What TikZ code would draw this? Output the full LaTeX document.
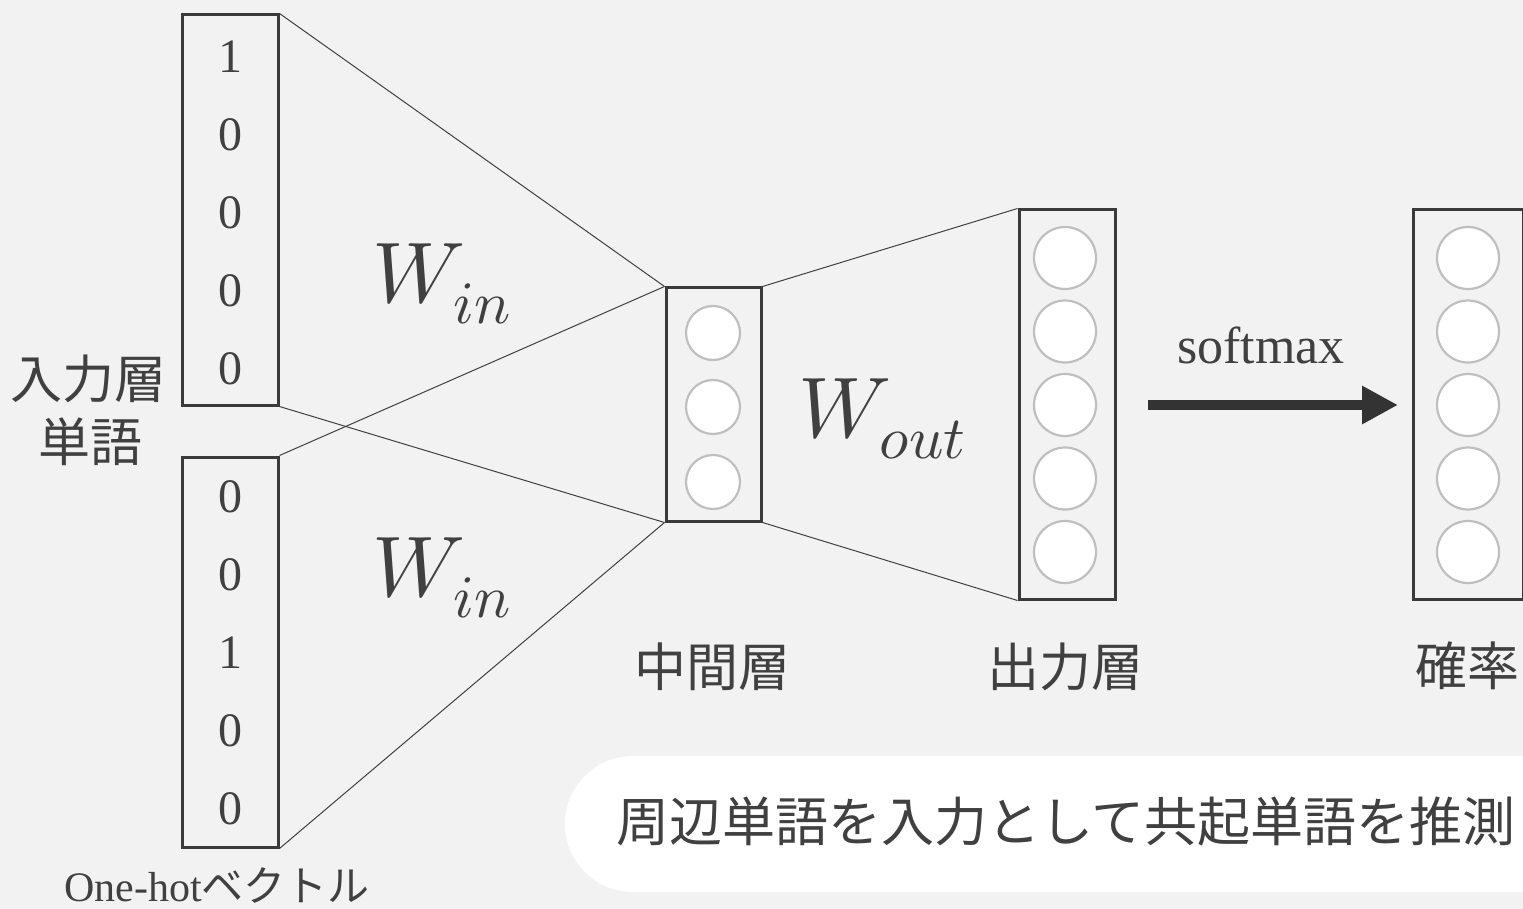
\documentclass[tikz,border=0pt]{standalone}
\usepackage{unicode-math}
\setmainfont{Liberation Serif}
\setmathfont{Latin Modern Math}
\newfontfamily\jp{Noto Sans CJK JP}
\usetikzlibrary{arrows.meta}
\definecolor{bgc}{HTML}{F2F2F2}
\definecolor{boxc}{HTML}{3A3A3A}
\definecolor{circc}{HTML}{BFBFBF}
\definecolor{txtc}{HTML}{404040}
\definecolor{arrc}{HTML}{333333}
\tikzset{
  vecbox/.style={draw=boxc, line width=3pt, rectangle, inner sep=0pt, minimum width=96pt, minimum height=390pt},
  unit/.style={circle, fill=white, draw=circc, line width=2.2pt, inner sep=0pt},
  sunit/.style={unit, minimum size=54pt},
  bunit/.style={unit, minimum size=62pt},
  conn/.style={draw=txtc, line width=1pt},
  num/.style={text=txtc, inner sep=0pt, font=\fontsize{48}{48}\selectfont},
  jlabel/.style={text=txtc, inner sep=0pt, font=\fontsize{52}{52}\selectfont\jp},
  wlabel/.style={text=txtc, inner sep=0pt, anchor=base west, font=\fontsize{86}{86}\selectfont},
}
\begin{document}
\begin{tikzpicture}[x=1pt,y=-1pt]
\useasboundingbox (0,0) rectangle (1523,909);
\clip (0,0) rectangle (1523,909);
\fill[bgc] (0,0) rectangle (1523,909);
% caption pill
\fill[white, rounded corners=68pt] (565,756) rectangle (1600,892);
% boxes
\node[vecbox] (top) at (230,210) {};
\node[vecbox] (bot) at (230,652) {};
\node[vecbox, minimum width=95pt, minimum height=233pt] (mid) at (713.5,404.5) {};
\node[vecbox, minimum height=389pt] (out) at (1067,404.5) {};
\node[vecbox, minimum width=110pt, minimum height=389pt] (prob) at (1468,404.5) {};
% connectors
\draw[conn] (top.north east) -- (mid.north west);
\draw[conn] (top.south east) -- (mid.south west);
\draw[conn] (bot.north east) -- (mid.north west);
\draw[conn] (bot.south east) -- (mid.south west);
\draw[conn] (mid.north east) -- (out.north west);
\draw[conn] (mid.south east) -- (out.south west);
% numbers
\node[num] (t1) at (230,57) {1};
\node[num] (t2) at (230,135) {0};
\node[num] (t3) at (230,213) {0};
\node[num] (t4) at (230,291) {0};
\node[num] (t5) at (230,369) {0};
\node[num] (b1) at (230,497) {0};
\node[num] (b2) at (230,575) {0};
\node[num] (b3) at (230,653) {1};
\node[num] (b4) at (230,731) {0};
\node[num] (b5) at (230,809) {0};
% units
\node[sunit] (m1) at (713,333) {};
\node[sunit] (m2) at (713,407) {};
\node[sunit] (m3) at (713,482) {};
\foreach \i/\y in {1/258,2/331.5,3/405,4/478.5,5/552}{
  \node[bunit] (o\i) at (1065,\y) {};
  \node[bunit] (p\i) at (1468,\y) {};
}
% weights
\node[wlabel] (win1) at (372,302) {$W_{in}$};
\node[wlabel] (win2) at (372,596) {$W_{in}$};
\node[wlabel] (wout) at (798,437) {$W_{out}$};
% softmax arrow
\coordinate (sa) at (1148,405);
\coordinate (sb) at (1398,405);
\draw[draw=arrc, line width=10pt, -{Triangle[length=36pt,width=36pt]}] (sa) -- (sb);
\node[text=txtc, inner sep=0pt, anchor=base, font=\fontsize{52}{52}\selectfont] (smx) at (1261,363) {softmax};
% labels
\node[jlabel] (in1) at (88,379) {入力層};
\node[jlabel] (in2) at (90,442) {単語};
\node[jlabel] (hid) at (712,667) {中間層};
\node[jlabel] (outl) at (1065,667) {出力層};
\node[jlabel] (prl) at (1467,666) {確率};
\node[text=txtc, inner sep=0pt, anchor=base, font=\fontsize{42}{42}\selectfont] (oh) at (217,901) {One-hot{\jp ベクトル}};
\node[text=txtc, inner sep=0pt, font=\fontsize{53}{53}\selectfont\jp] (cap) at (1066,822) {周辺単語を入力として共起単語を推測};
\end{tikzpicture}
\end{document}
